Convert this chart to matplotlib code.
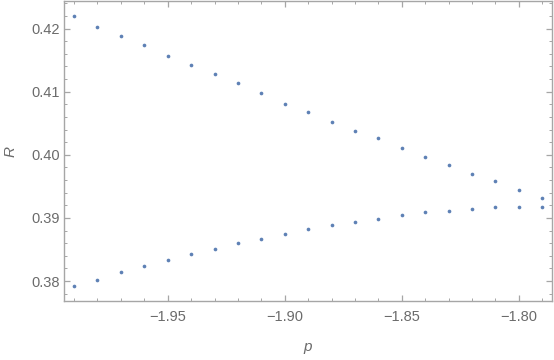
import numpy as np
import matplotlib
matplotlib.use("Agg")
import matplotlib.pyplot as plt
from matplotlib.ticker import MultipleLocator, FuncFormatter

# p values (-1.99 ... -1.79)
p_vals = [-1.99, -1.98, -1.97, -1.96, -1.95, -1.94, -1.93, -1.92, -1.91, -1.90,
          -1.89, -1.88, -1.87, -1.86, -1.85, -1.84, -1.83, -1.82, -1.81, -1.80, -1.79]

# upper branch of R
r_upper = [0.4220, 0.4203, 0.4188, 0.4174, 0.4157, 0.4142, 0.4128, 0.4113, 0.4098, 0.4081,
           0.4067, 0.4052, 0.4038, 0.4026, 0.4011, 0.3997, 0.3984, 0.3970, 0.3958, 0.3945, 0.3931]

# lower branch of R
r_lower = [0.3792, 0.3802, 0.3814, 0.3824, 0.3833, 0.3843, 0.3851, 0.3860, 0.3867, 0.3874,
           0.3882, 0.3889, 0.3894, 0.3899, 0.3905, 0.3909, 0.3911, 0.3914, 0.3917, 0.3917, 0.3917]

POINT_COLOR = "#5e81b5"
FRAME_COLOR = "#a6a6a6"
LABEL_COLOR = "#6b6b6b"

plt.rcParams['font.family'] = ['Liberation Sans', 'DejaVu Sans']


def fmt2(v, pos):
    # two decimals with a real minus sign
    return f"{v:.2f}".replace("-", "\u2212")


fig = plt.figure(figsize=(5.54, 3.6), dpi=100)
ax = fig.add_axes([0.116, 0.163, 0.8795, 0.835])

ax.scatter(p_vals, r_upper, s=7, color=POINT_COLOR, linewidths=0, zorder=3)
ax.scatter(p_vals, r_lower, s=7, color=POINT_COLOR, linewidths=0, zorder=3)

ax.set_xlim(-1.9942, -1.786)
ax.set_ylim(0.3768, 0.4244)

ax.xaxis.set_major_locator(MultipleLocator(0.05))
ax.xaxis.set_minor_locator(MultipleLocator(0.01))
ax.yaxis.set_major_locator(MultipleLocator(0.01))
ax.yaxis.set_minor_locator(MultipleLocator(0.002))
ax.xaxis.set_major_formatter(FuncFormatter(fmt2))
ax.yaxis.set_major_formatter(FuncFormatter(fmt2))

for spine in ax.spines.values():
    spine.set_color(FRAME_COLOR)
    spine.set_linewidth(1.0)

ax.tick_params(which='both', direction='in', top=True, right=True,
               color=FRAME_COLOR, labelcolor=LABEL_COLOR, labelsize=10.5)
ax.tick_params(which='major', length=4.2, width=0.9)
ax.tick_params(which='minor', length=2.4, width=0.7)
ax.tick_params(axis='x', which='major', pad=6)
ax.tick_params(axis='y', which='major', pad=3)

ax.set_xlabel("p", fontsize=11, style='italic', color=LABEL_COLOR, labelpad=12)
ax.set_ylabel("R", fontsize=11, style='italic', color=LABEL_COLOR, labelpad=10)

fig.savefig("out.png", dpi=100)
